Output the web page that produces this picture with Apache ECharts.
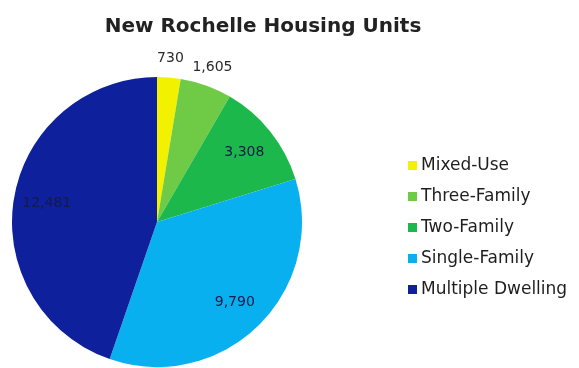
<!DOCTYPE html>
<html>
<head>
<meta charset="utf-8">
<title>New Rochelle Housing Units</title>
<script src="https://cdn.jsdelivr.net/npm/echarts@6/dist/echarts.min.js"></script>
<style>
  html, body { margin: 0; padding: 0; background: #ffffff; }
  #chart { width: 579px; height: 368px; }
</style>
</head>
<body>
<div id="chart"></div>
<script>
// Housing units by building type
const categories = ['Mixed-Use', 'Three-Family', 'Two-Family', 'Single-Family', 'Multiple Dwelling'];
const units = [730, 1605, 3308, 9790, 12481];
const sliceColors = ['#f2f200', '#6fcb45', '#1db84c', '#09b0ef', '#0f209c'];

const total = units.reduce((a, b) => a + b, 0);
const fmt = v => v.toLocaleString('en-US');

const R = 145;
const CENTER = [157, 222];
const FONT = 'DejaVu Sans';

const baseData = categories.map((name, i) => ({
  name,
  value: units[i],
  itemStyle: { color: sliceColors[i] }
}));

// labels: large slices carry their value inside, small ones just outside the rim
const labelData = (inner) => categories.map((name, i) => {
  const big = units[i] / total > 0.1;
  return {
    name,
    value: units[i],
    label: { show: inner ? big : !big }
  };
});

const labelSeries = (radius, inner) => ({
  type: 'pie',
  silent: true,
  center: CENTER,
  radius,
  startAngle: 90,
  clockwise: true,
  itemStyle: { color: 'rgba(0,0,0,0)', borderWidth: 0 },
  emphasis: { disabled: true },
  labelLine: { show: false },
  label: {
    position: 'inside',
    formatter: p => fmt(p.value),
    fontFamily: FONT,
    fontSize: 14,
    color: inner ? '#141a4a' : '#2a2a2a'
  },
  data: labelData(inner)
});

const chart = echarts.init(document.getElementById('chart'), null, { renderer: 'canvas' });
chart.setOption({
  animation: false,
  backgroundColor: '#ffffff',
  title: {
    text: 'New Rochelle Housing Units',
    left: 258,
    top: 12,
    textAlign: 'center',
    textStyle: { fontFamily: FONT, fontSize: 20, fontWeight: 'bold', color: '#222222' }
  },
  legend: {
    orient: 'vertical',
    left: 403,
    top: 152,
    icon: 'rect',
    itemWidth: 9,
    itemHeight: 9,
    itemGap: 14,
    selectedMode: false,
    data: categories,
    textStyle: { fontFamily: FONT, fontSize: 17, color: '#1e1e1e', padding: [0, 0, 0, -1] }
  },
  series: [
    {
      type: 'pie',
      center: CENTER,
      radius: [0, R],
      startAngle: 90,
      clockwise: true,
      label: { show: false },
      labelLine: { show: false },
      emphasis: { disabled: true },
      itemStyle: { borderWidth: 0 },
      data: baseData
    },
    labelSeries([R / 2, R], true),
    labelSeries([R, R + 32], false)
  ]
});
</script>
</body>
</html>
